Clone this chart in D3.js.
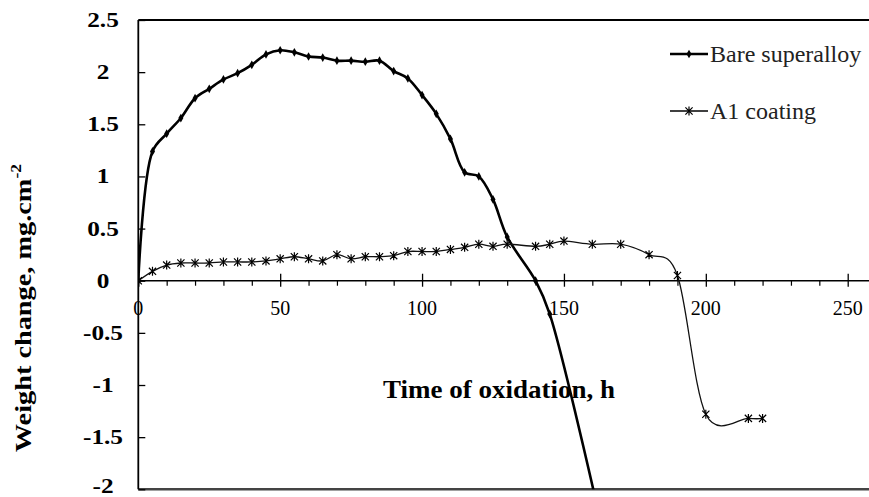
<!DOCTYPE html>
<html>
<head>
<meta charset="utf-8">
<script src="https://cdn.jsdelivr.net/npm/d3@7"></script>
<style>
    body { margin: 0; background: #fff; }
</style>
</head>
<body>
<svg id="chart" width="869" height="497"></svg>
<script>
// data
const bareHours = [0, 5, 10, 15, 20, 25, 30, 35, 40, 45, 50, 55, 60, 65, 70, 75, 80, 85, 90, 95, 100, 105, 110, 115, 120, 125, 130, 140, 145, 165];
const bareWeight = [0, 1.24, 1.41, 1.56, 1.75, 1.84, 1.93, 1.99, 2.07, 2.17, 2.21, 2.19, 2.15, 2.14, 2.11, 2.11, 2.10, 2.11, 2.01, 1.94, 1.78, 1.60, 1.36, 1.04, 1.00, 0.78, 0.42, 0, -0.32, -2.56];
const coatHours = [0, 5, 10, 15, 20, 25, 30, 35, 40, 45, 50, 55, 60, 65, 70, 75, 80, 85, 90, 95, 100, 105, 110, 115, 120, 125, 130, 140, 145, 150, 160, 170, 180, 190, 200, 215, 220];
const coatWeight = [0, 0.09, 0.15, 0.17, 0.17, 0.17, 0.18, 0.18, 0.18, 0.19, 0.21, 0.23, 0.21, 0.19, 0.25, 0.21, 0.23, 0.23, 0.24, 0.28, 0.28, 0.28, 0.30, 0.32, 0.35, 0.33, 0.35, 0.33, 0.35, 0.38, 0.35, 0.35, 0.25, 0.05, -1.28, -1.32, -1.32];
const xMajorTicks = [0, 50, 100, 150, 200, 250];
const xMinorTicks = [10, 20, 30, 40, 60, 70, 80, 90, 110, 120, 130, 140, 160, 170, 180, 190, 210, 220, 230, 240];
const yTicks = [2.5, 2, 1.5, 1, 0.5, 0, -0.5, -1, -1.5, -2];
const seriesNames = ["Bare superalloy", "A1 coating"];

const width = 869;
const height = 497;
const serif = "Liberation Serif, Times New Roman, Times, Noto Serif, DejaVu Serif, serif";

const x = d3.scaleLinear().domain([0, 250]).range([138.3, 847.7]);
const y = d3.scaleLinear().domain([-2, 2.5]).range([489.3, 20]);

const svg = d3.select("#chart").style("font-family", serif);

svg.append("defs").append("clipPath").attr("id", "plotClip")
    .append("rect")
    .attr("x", x(0)).attr("y", y(2.5))
    .attr("width", width - x(0)).attr("height", y(-2) - y(2.5));

// plot frame
svg.append("line")
    .attr("x1", x(0)).attr("x2", width)
    .attr("y1", y(2.5)).attr("y2", y(2.5))
    .attr("stroke", "#000").attr("stroke-width", 1.8);
svg.append("line")
    .attr("x1", x(0)).attr("x2", width)
    .attr("y1", y(-2)).attr("y2", y(-2))
    .attr("stroke", "#444").attr("stroke-width", 2.6);

// y axis: ticks point into the plot
svg.append("g")
    .attr("transform", `translate(${x(0)},0)`)
    .call(d3.axisRight(y).tickValues(yTicks).tickSize(7).tickFormat(""))
    .call(g => g.select(".domain").attr("stroke-width", 1.8).attr("d", `M0,${y(2.5)}V${y(-2)}`))
    .call(g => g.selectAll(".tick line").attr("stroke-width", 1.3));

svg.append("g").selectAll("text")
    .data(yTicks)
    .join("text")
    .attr("transform", d => `translate(103,${Math.min(y(d) + 7, 493)}) scale(1.15,1)`)
    .attr("text-anchor", "middle")
    .style("font-family", serif)
    .attr("font-size", 22)
    .attr("font-weight", "bold")
    .attr("fill", "#000")
    .text(d => d);

// x axis at y = 0
const xAxisG = svg.append("g").attr("transform", `translate(0,${y(0)})`);
xAxisG.append("g")
    .call(d3.axisBottom(x).tickValues(xMinorTicks).tickSize(5).tickFormat(""))
    .call(g => g.select(".domain").attr("d", `M${x(0)},0H${width}`).attr("stroke-width", 1.5))
    .call(g => g.selectAll(".tick line").attr("stroke-width", 1.2));
xAxisG.append("g")
    .call(d3.axisBottom(x).tickValues(xMajorTicks).tickSize(6).tickFormat(""))
    .call(g => g.select(".domain").remove())
    .call(g => g.selectAll(".tick line").attr("stroke-width", 1.3));
xAxisG.append("g")
    .call(d3.axisTop(x).tickValues(xMajorTicks).tickSize(7).tickFormat(""))
    .call(g => g.select(".domain").remove())
    .call(g => g.selectAll(".tick line").attr("stroke-width", 1.3));

svg.append("g").selectAll("text")
    .data(xMajorTicks)
    .join("text")
    .attr("x", d => x(d))
    .attr("y", y(0) + 34)
    .attr("text-anchor", "middle")
    .style("font-family", serif)
    .attr("font-size", 20)
    .attr("fill", "#000")
    .text(d => d);

// axis titles
svg.append("text")
    .attr("transform", "translate(499,398) scale(1.08,1)")
    .attr("text-anchor", "middle")
    .style("font-family", serif)
    .attr("font-size", 25)
    .attr("font-weight", "bold")
    .text("Time of oxidation, h");

const yTitle = svg.append("text")
    .attr("transform", "translate(31,308) rotate(-90) scale(1.18,1)")
    .attr("text-anchor", "middle")
    .style("font-family", serif)
    .attr("font-size", 24)
    .attr("font-weight", "bold");
yTitle.append("tspan").text("Weight change, mg.cm");
yTitle.append("tspan").attr("font-size", 15).attr("dy", -10).text("-2");

// markers
const diamond = d3.symbol().type(d3.symbolDiamond).size(22);
function starPath(r) {
    return `M0,${-r}V${r}M${-r * 0.8},${-r * 0.8}L${r * 0.8},${r * 0.8}M${-r * 0.8},${r * 0.8}L${r * 0.8},${-r * 0.8}`;
}

const bare = bareHours.map((h, i) => ({h: h, w: bareWeight[i]}));
const coat = coatHours.map((h, i) => ({h: h, w: coatWeight[i]}));

const bareLine = d3.line()
    .x(d => x(d.h))
    .y(d => y(d.w))
    .curve(d3.curveCatmullRom.alpha(0.5));

const coatLine = d3.line()
    .x(d => x(d.h))
    .y(d => y(d.w))
    .curve(d3.curveCardinal.tension(0));

const plot = svg.append("g").attr("clip-path", "url(#plotClip)");

plot.append("path")
    .datum(bare)
    .attr("fill", "none")
    .attr("stroke", "#000")
    .attr("stroke-width", 2.6)
    .attr("d", bareLine);

plot.append("g").selectAll("path")
    .data(bare)
    .join("path")
    .attr("transform", d => `translate(${x(d.h)},${y(d.w)})`)
    .attr("d", diamond)
    .attr("fill", "#000");

plot.append("path")
    .datum(coat)
    .attr("fill", "none")
    .attr("stroke", "#111")
    .attr("stroke-width", 1.3)
    .attr("d", coatLine);

plot.append("g").selectAll("path")
    .data(coat)
    .join("path")
    .attr("transform", d => `translate(${x(d.h)},${y(d.w)})`)
    .attr("d", starPath(4.5))
    .attr("fill", "none")
    .attr("stroke", "#000")
    .attr("stroke-width", 1.2);

// legend
const legend = svg.append("g");
const legendRows = [
    {name: seriesNames[0], y: 54, width: 2.6},
    {name: seriesNames[1], y: 111, width: 1.3}
];
legendRows.forEach((row, i) => {
    legend.append("line")
        .attr("x1", 670).attr("x2", 708)
        .attr("y1", row.y).attr("y2", row.y)
        .attr("stroke", "#000").attr("stroke-width", row.width);
    if (i === 0) {
        legend.append("path")
            .attr("transform", `translate(689,${row.y})`)
            .attr("d", diamond).attr("fill", "#000");
    } else {
        legend.append("path")
            .attr("transform", `translate(689,${row.y})`)
            .attr("d", starPath(4.5))
            .attr("fill", "none").attr("stroke", "#000").attr("stroke-width", 1.2);
    }
    legend.append("text")
        .attr("x", 710)
        .attr("y", row.y + 8)
        .style("font-family", serif)
        .attr("font-size", 24)
        .attr("fill", "#222")
        .text(row.name);
});
</script>
</body>
</html>
